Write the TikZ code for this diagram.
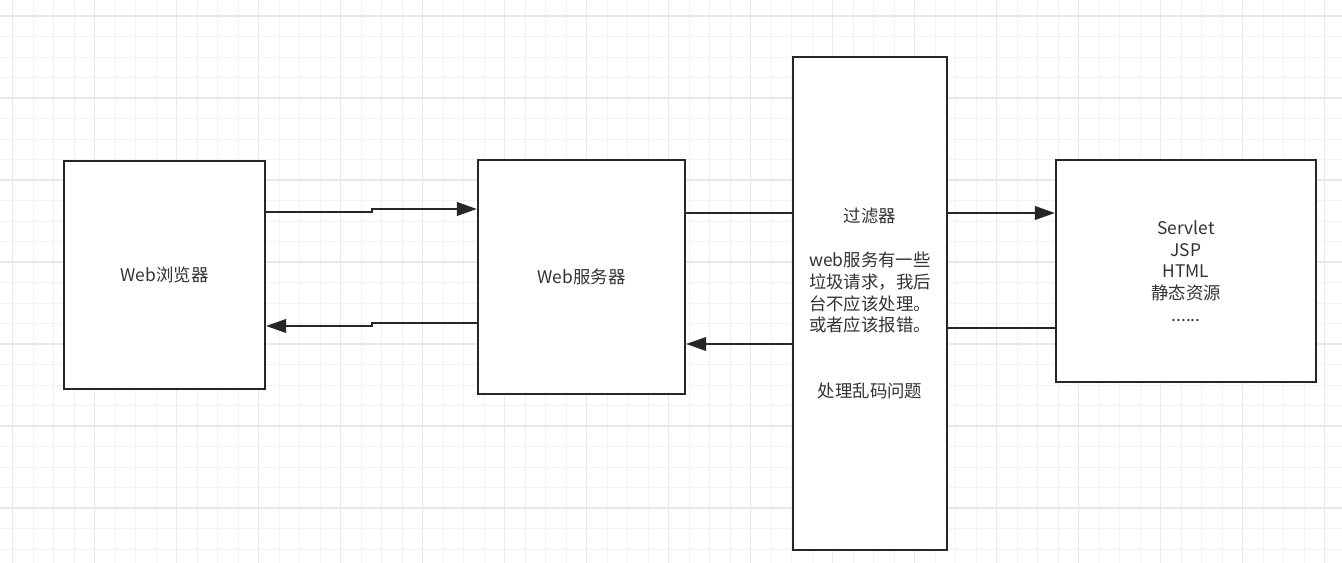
\documentclass[tikz,border=0pt]{standalone}
\usepackage{fontspec}
\setmainfont{Noto Sans CJK SC}
\usetikzlibrary{arrows.meta}
\colorlet{gridminorc}{black!5}
\colorlet{gridmajorc}{black!9}
\definecolor{textc}{HTML}{333333}
\tikzset{
  box/.style={draw=black!85, line width=1.3pt, fill=white, shape=rectangle, text=textc,
    font=\fontsize{9.9}{12.4}\selectfont, align=center, inner sep=0pt},
  link/.style={draw=black!85, line width=1.3pt},
  arrowlink/.style={link, -{Triangle[length=0.4cm,width=0.27cm]}},
}

\begin{document}
\begin{tikzpicture}[x=0.02cm,y=-0.02cm]
\fill[white] (0,0) rectangle (1342,563);
\useasboundingbox (0,0) rectangle (1342,563);

% background grid
\foreach \i in {0,...,65}
  \draw[gridminorc, line width=0.5pt] ({12.7+20.5*\i},0) -- ++(0,563);
\foreach \i in {0,...,27}
  \draw[gridminorc, line width=0.5pt] (0,{16+20.5*\i}) -- ++(1342,0);
\foreach \i in {0,...,16}
  \draw[gridmajorc, line width=0.6pt] ({12.7+82*\i},0) -- ++(0,563);
\foreach \i in {0,...,6}
  \draw[gridmajorc, line width=0.6pt] (0,{16+82*\i}) -- ++(1342,0);

\node[box, minimum width=4.02cm, minimum height=4.56cm] (browser) at (164.5,275) {Web浏览器};
\node[box, minimum width=4.14cm, minimum height=4.68cm] (server) at (581.5,277) {Web服务器};
\node[box, minimum width=3.08cm, minimum height=9.86cm] (filter) at (870,303.5)
{过滤器\\[12.4pt] web服务有一些\\垃圾请求，我后\\台不应该处理。\\或者应该报错。\\[24.8pt] 处理乱码问题};
\node[box, minimum width=5.2cm, minimum height=4.44cm] (servlet) at (1186,271)
{Servlet\\JSP\\HTML\\静态资源\\......};

% browser <-> server
\draw[arrowlink] (browser.east |- 0,212) -- (372,212) -- (372,209) -- (server.west |- 0,209);
\draw[arrowlink] (server.west |- 0,323) -- (372,323) -- (372,326) -- (browser.east |- 0,326);
% server <-> filter
\draw[link] (server.east |- 0,213) -- (filter.west |- 0,213);
\draw[arrowlink] (filter.west |- 0,344) -- (server.east |- 0,344);
% filter <-> servlet
\draw[arrowlink] (filter.east |- 0,213) -- (servlet.west |- 0,213);
\draw[link] (servlet.west |- 0,328) -- (filter.east |- 0,328);

\end{tikzpicture}
\end{document}
